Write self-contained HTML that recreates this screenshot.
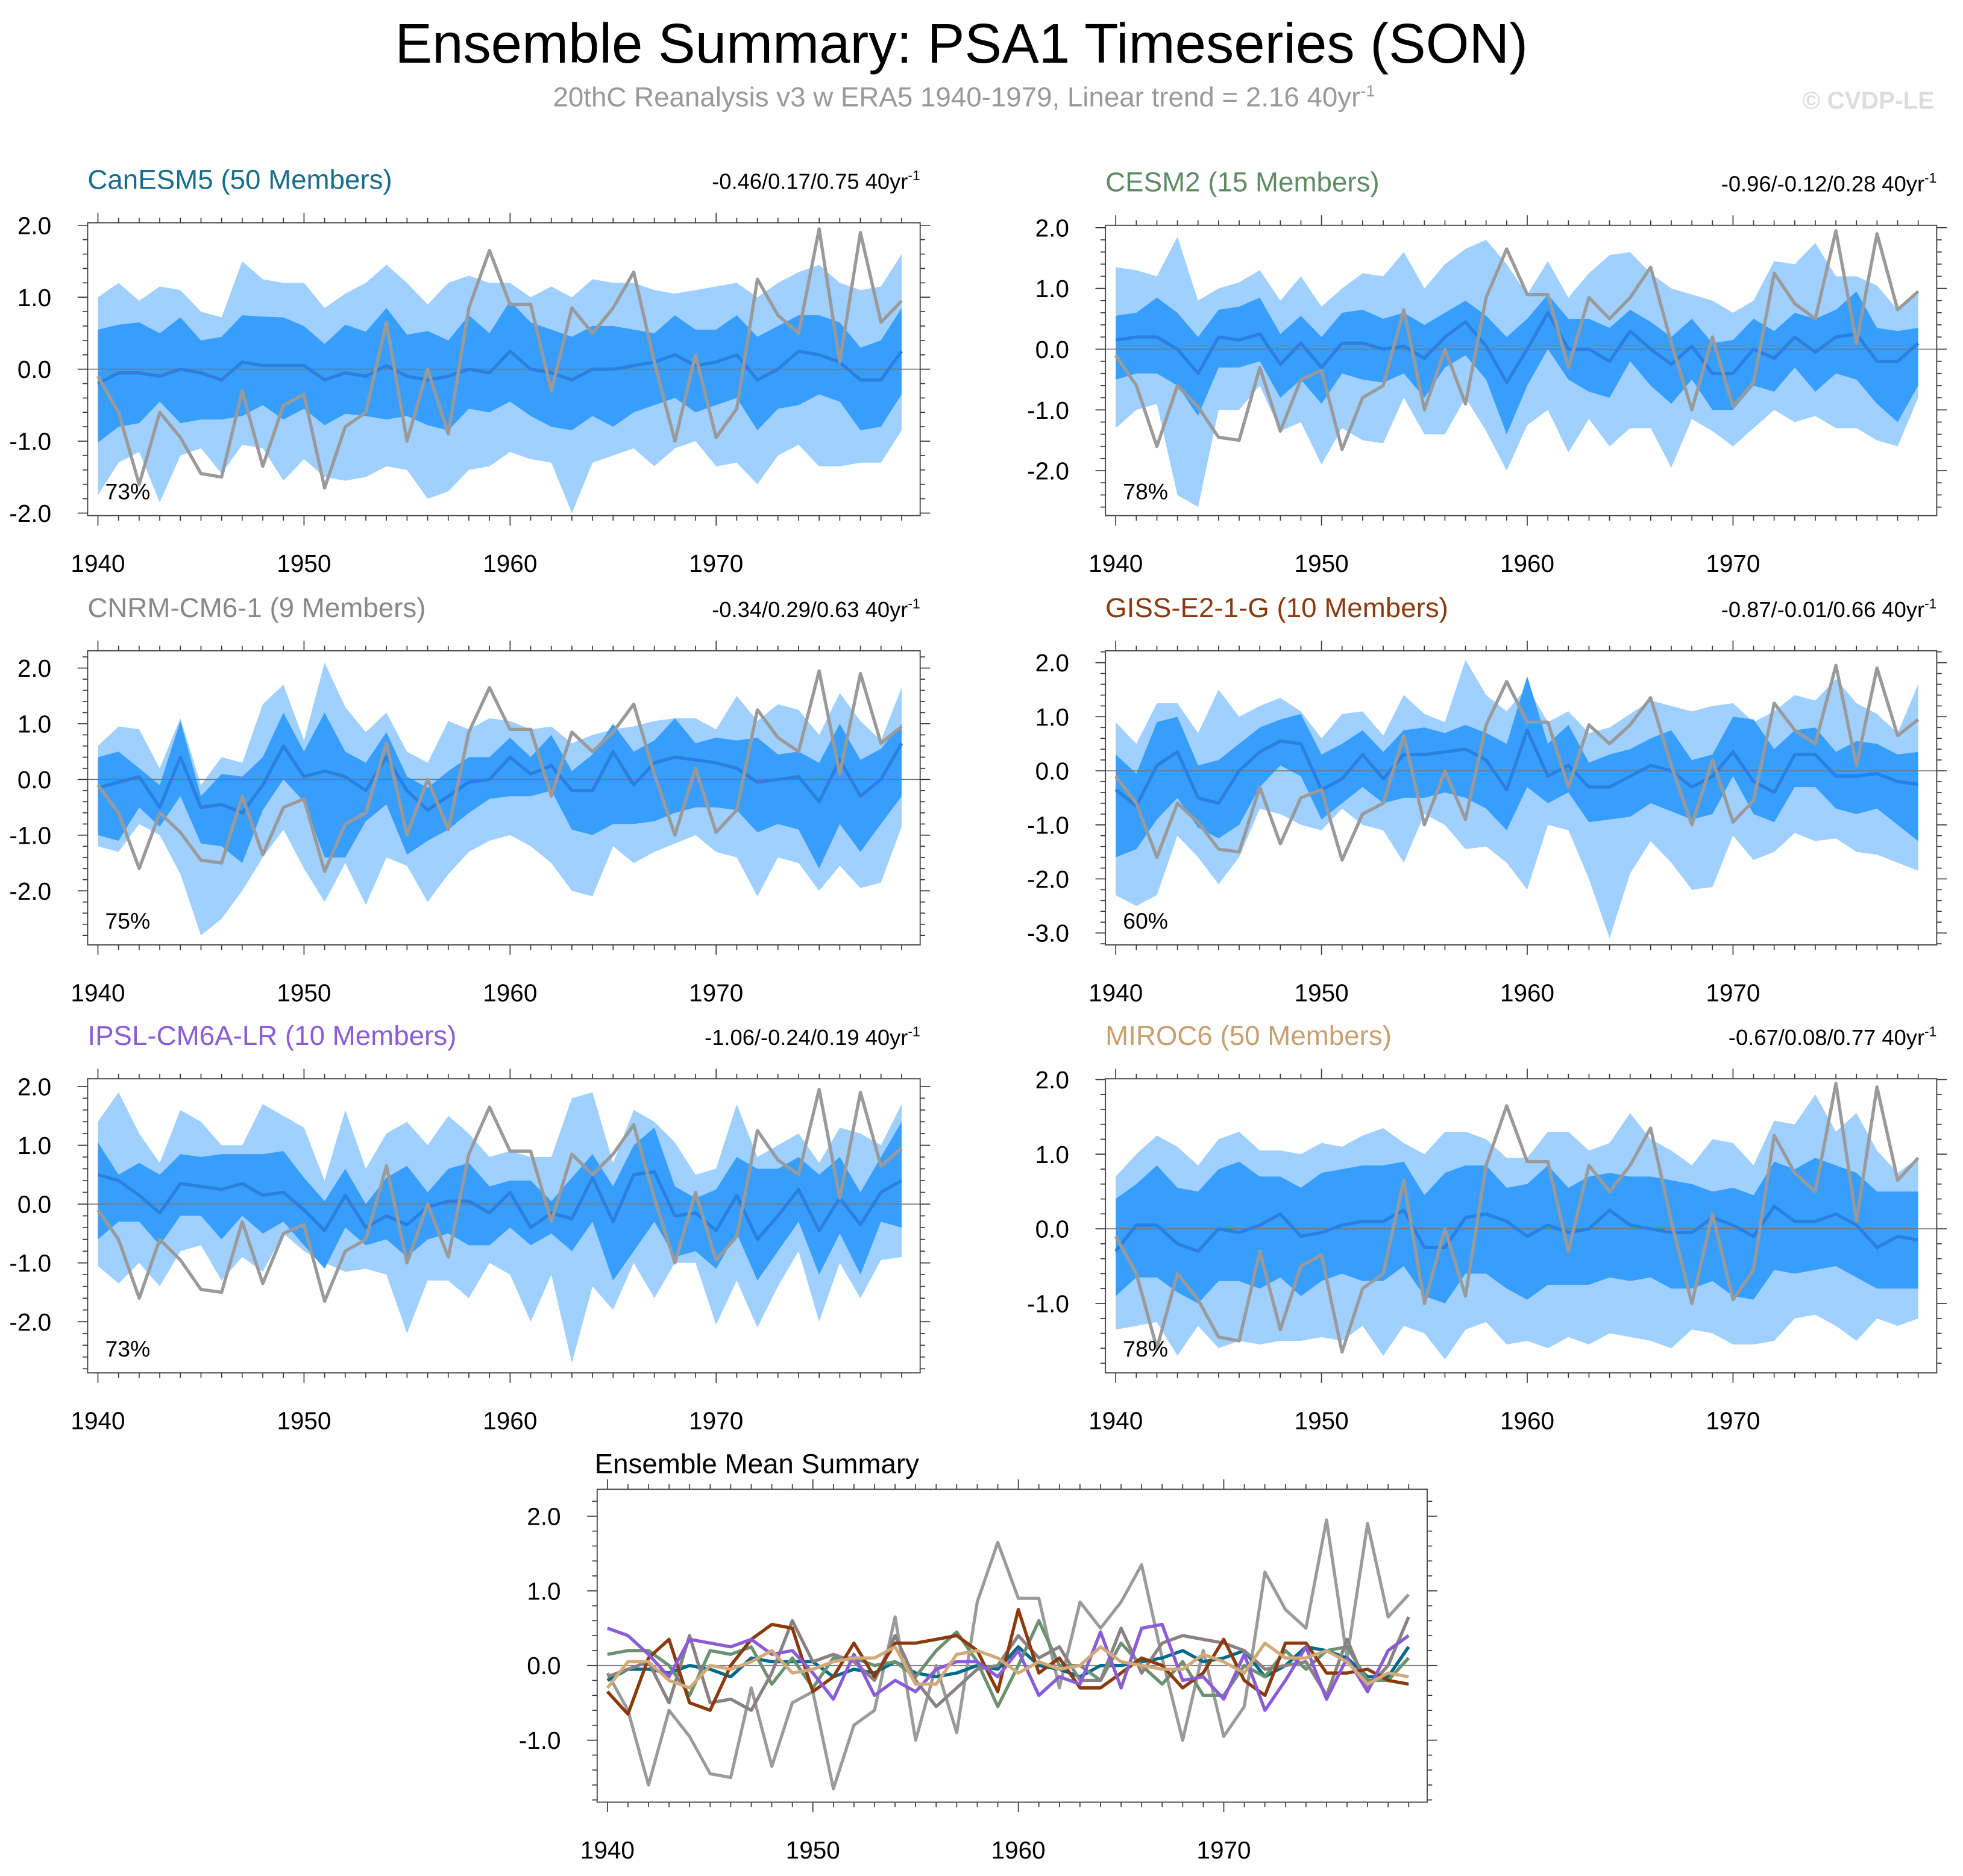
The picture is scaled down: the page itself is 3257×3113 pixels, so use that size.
<!DOCTYPE html>
<html><head><meta charset="utf-8"><style>
html,body{margin:0;padding:0;background:#fff;}
svg{display:block;font-family:"Liberation Sans",sans-serif;}
</style></head><body>
<svg id="chart" xmlns="http://www.w3.org/2000/svg" width="3257" height="3113" viewBox="0 0 1568 1499" preserveAspectRatio="none">
<rect width="1568" height="1499" fill="#fff"/>
<text x="768" y="50" font-size="44.5" text-anchor="middle" fill="#000">Ensemble Summary: PSA1 Timeseries (SON)</text>
<text x="770" y="85" font-size="22" text-anchor="middle" fill="#999">20thC Reanalysis v3 w ERA5 1940-1979, Linear trend = 2.16 40yr<tspan dy="-8" font-size="13">-1</tspan></text>
<text x="1545" y="87" font-size="19.5" font-weight="bold" text-anchor="end" fill="#ddd">© CVDP-LE</text>
<g id="panels"></g>
</svg>
<script>
const years = [];
for (let y = 1940; y <= 1979; y++) years.push(y);
const obs = [-0.1,-0.6,-1.6,-0.6,-0.95,-1.45,-1.5,-0.3,-1.35,-0.5,-0.35,-1.65,-0.8,-0.6,0.65,-1.0,0.0,-0.9,0.85,1.65,0.9,0.9,-0.3,0.85,0.5,0.85,1.35,0.1,-1.0,0.2,-0.95,-0.55,1.25,0.75,0.5,1.95,0.1,1.9,0.65,0.95];

const canMean = [-0.2,-0.05,-0.05,-0.1,0,-0.05,-0.15,0.1,0.05,0.05,0.05,-0.15,-0.05,-0.1,0.05,-0.1,-0.15,-0.1,0,-0.05,0.25,0,-0.05,-0.15,0,0,0.05,0.1,0.2,0.05,0.1,0.2,-0.15,0,0.25,0.2,0.1,-0.15,-0.15,0.25];
const canOutHi = [1.0,1.2,0.95,1.15,1.1,0.8,0.72,1.5,1.25,1.2,1.2,0.85,1.05,1.2,1.45,1.2,0.9,1.2,1.3,1.2,1.2,1.0,1.15,1.0,1.25,1.2,1.2,1.1,1.05,1.1,1.15,1.2,1.0,1.2,1.35,1.45,1.2,1.1,1.15,1.6];
const canOutLo = [-1.75,-1.3,-1.15,-1.85,-1.2,-1.1,-1.45,-1.05,-1.1,-1.55,-1.25,-1.5,-1.55,-1.5,-1.35,-1.4,-1.8,-1.7,-1.4,-1.35,-1.15,-1.25,-1.3,-2.0,-1.3,-1.2,-1.1,-1.35,-1.1,-1.0,-1.35,-1.3,-1.6,-1.2,-1.05,-1.35,-1.35,-1.3,-1.3,-0.85];
const canInHi = [0.55,0.62,0.65,0.5,0.72,0.4,0.45,0.75,0.73,0.72,0.6,0.35,0.62,0.52,0.85,0.48,0.53,0.4,0.75,0.5,0.95,0.65,0.55,0.45,0.6,0.6,0.55,0.5,0.75,0.55,0.55,0.75,0.45,0.6,0.75,0.75,0.65,0.3,0.4,0.85];
const canInLo = [-1.02,-0.8,-0.75,-0.45,-0.75,-0.7,-0.7,-0.65,-0.5,-0.7,-0.55,-0.78,-0.62,-0.65,-0.7,-0.65,-0.78,-0.85,-0.55,-0.6,-0.45,-0.65,-0.8,-0.85,-0.65,-0.8,-0.6,-0.5,-0.4,-0.6,-0.5,-0.4,-0.85,-0.55,-0.5,-0.35,-0.45,-0.85,-0.8,-0.35];

const cesMean = [0.15,0.2,0.2,0.0,-0.4,0.2,0.15,0.25,-0.25,0.1,-0.3,0.1,0.1,0.0,0.05,-0.15,0.2,0.45,0.05,-0.55,0.0,0.6,0.0,0.0,-0.2,0.3,0.0,-0.25,0.05,-0.4,-0.4,0.0,-0.15,0.2,-0.05,0.2,0.25,-0.2,-0.2,0.1];
const cesOutHi = [1.35,1.3,1.2,1.85,0.8,1.0,1.1,1.3,0.8,1.2,0.7,1.0,1.25,1.2,1.6,1.0,1.4,1.65,1.8,1.4,0.9,1.45,0.85,1.25,1.55,1.6,1.25,1.0,0.9,0.8,0.6,0.8,1.45,1.4,1.75,1.2,1.2,1.05,0.65,0.95];
const cesOutLo = [-1.3,-1.0,-0.9,-2.4,-2.6,-1.0,-1.0,-0.6,-1.35,-1.2,-1.9,-1.3,-1.5,-1.55,-0.8,-1.4,-1.4,-0.8,-1.35,-2.0,-1.25,-1.0,-1.7,-1.15,-1.6,-1.3,-1.3,-1.95,-1.15,-1.35,-1.6,-1.3,-1.0,-1.2,-1.1,-1.3,-1.3,-1.5,-1.6,-0.8];
const cesInHi = [0.55,0.6,0.85,0.6,0.2,0.65,0.7,0.85,0.25,0.55,0.2,0.6,0.65,0.5,0.6,0.4,0.6,0.8,0.55,0.2,0.5,0.9,0.5,0.5,0.35,0.65,0.45,0.2,0.5,0.1,0.15,0.5,0.3,0.6,0.5,0.65,0.95,0.35,0.3,0.35];
const cesInLo = [-0.5,-0.4,-0.4,-0.6,-1.1,-0.3,-0.3,-0.2,-0.8,-0.5,-0.9,-0.4,-0.5,-0.55,-0.4,-0.8,-0.3,-0.1,-0.5,-1.4,-0.6,0.0,-0.5,-0.7,-0.8,-0.2,-0.6,-0.9,-0.5,-1.0,-1.0,-0.6,-0.7,-0.3,-0.7,-0.4,-0.5,-0.9,-1.2,-0.6];

const cnrMean = [-0.15,-0.05,0.05,-0.5,0.4,-0.5,-0.45,-0.6,-0.1,0.6,0.05,0.15,0.05,-0.2,0.4,-0.2,-0.55,-0.3,-0.05,0.0,0.4,0.1,0.25,-0.2,-0.2,0.5,-0.1,0.3,0.4,0.35,0.3,0.2,-0.05,0.0,0.05,-0.4,0.35,-0.3,0.0,0.65];
const cnrOutHi = [0.6,0.95,0.9,0.2,1.1,-0.1,0.4,0.3,1.35,1.7,0.7,2.1,1.3,0.85,1.2,0.5,0.3,1.05,0.9,1.1,1.05,0.9,0.95,0.65,0.8,0.9,0.95,1.05,1.1,1.1,0.9,1.5,1.05,1.35,1.25,0.8,1.55,1.05,0.7,1.65];
const cnrOutLo = [-1.2,-1.3,-0.8,-1.0,-1.7,-2.8,-2.5,-2.0,-1.4,-0.9,-1.6,-2.2,-1.5,-2.25,-1.4,-1.55,-2.2,-1.7,-1.3,-1.1,-1.0,-1.2,-1.5,-2.0,-2.1,-1.2,-1.5,-1.3,-1.15,-1.0,-1.3,-1.4,-2.1,-1.4,-1.5,-2.0,-1.55,-1.95,-1.85,-0.85];
const cnrInHi = [0.4,0.5,0.2,-0.1,1.05,-0.3,0.1,0.05,0.4,1.2,0.5,1.2,0.5,0.3,0.85,0.05,-0.15,0.15,0.4,0.4,0.75,0.4,0.8,0.15,0.45,1.0,0.5,0.7,1.1,0.65,0.75,0.7,0.75,0.45,0.5,0.3,1.0,0.35,0.55,1.0];
const cnrInLo = [-1.0,-1.1,-0.5,-0.85,-0.3,-1.15,-1.2,-1.5,-0.55,0.0,-0.4,-1.4,-1.4,-0.75,-0.45,-1.35,-1.1,-0.9,-0.6,-0.35,-0.3,-0.3,-0.2,-0.9,-1.0,-0.8,-0.8,-0.75,-0.6,-0.5,-0.5,-0.55,-0.95,-0.8,-0.9,-1.6,-0.8,-1.3,-0.8,-0.3];

const gisMean = [-0.35,-0.65,0.1,0.35,-0.5,-0.6,0.0,0.35,0.55,0.5,-0.35,-0.15,0.3,-0.15,0.3,0.3,0.35,0.4,0.2,-0.35,0.75,-0.1,0.1,-0.3,-0.3,-0.1,0.1,0.0,-0.3,-0.1,0.35,-0.2,-0.4,0.3,0.3,-0.1,-0.1,-0.05,-0.2,-0.25];
const gisOutHi = [0.9,0.5,1.25,1.25,0.7,1.5,1.0,1.2,1.35,1.1,0.6,1.05,1.1,0.65,1.4,1.05,0.9,2.05,1.4,1.1,1.55,0.9,1.1,0.7,0.8,1.05,1.3,1.2,1.1,1.2,1.25,0.9,1.1,1.4,1.3,1.7,1.25,1.05,0.7,1.6];
const gisOutLo = [-2.3,-2.5,-2.3,-1.2,-1.6,-2.1,-1.6,-0.7,-0.8,-1.0,-1.1,-0.7,-1.0,-1.1,-1.7,-0.8,-1.0,-1.45,-1.4,-1.7,-2.2,-1.0,-1.1,-2.0,-3.1,-1.9,-1.3,-1.7,-2.2,-2.15,-1.2,-1.65,-1.5,-1.15,-1.3,-1.25,-1.5,-1.55,-1.7,-1.85];
const gisInHi = [0.3,-0.05,0.9,1.0,0.1,0.2,0.5,0.8,0.95,1.05,0.3,0.5,0.75,0.35,0.75,0.8,0.7,0.85,0.7,0.5,1.75,0.5,0.85,0.15,0.3,0.4,0.6,0.75,0.2,0.3,1.0,0.95,0.4,0.75,0.8,0.35,0.55,0.5,0.3,0.35];
const gisInLo = [-1.6,-1.45,-0.9,-0.5,-1.05,-1.25,-1.0,-0.3,0.1,-0.1,-0.9,-0.6,-0.3,-0.6,-0.5,-0.5,-0.4,-0.5,-0.7,-1.1,-0.3,-0.6,-0.4,-0.95,-0.9,-0.85,-0.6,-0.75,-0.9,-0.8,-0.1,-0.8,-0.95,-0.3,-0.3,-0.7,-0.8,-0.7,-1.0,-1.3];

const ipsMean = [0.5,0.4,0.15,-0.15,0.35,0.3,0.25,0.35,0.15,0.2,-0.1,-0.45,0.15,-0.4,-0.2,-0.35,-0.05,0.05,0.05,-0.15,0.2,-0.4,-0.15,-0.25,0.45,-0.3,0.5,0.55,-0.2,-0.15,-0.45,0.15,-0.6,-0.2,0.25,-0.45,0.1,-0.35,0.2,0.4];
const ipsOutHi = [1.4,1.9,1.2,0.7,1.6,1.4,1.0,1.0,1.7,1.5,1.3,0.4,1.6,0.6,1.2,1.4,1.0,1.5,1.2,0.8,0.9,0.8,0.8,1.8,1.9,0.7,1.6,1.4,1.05,0.5,0.6,1.7,0.8,1.0,1.2,0.7,1.3,1.2,1.0,1.7];
const ipsOutLo = [-1.05,-1.35,-1.0,-1.4,-0.8,-0.7,-1.3,-0.9,-1.15,-0.5,-0.8,-1.0,-1.15,-1.1,-1.2,-2.2,-1.3,-1.3,-1.6,-1.0,-1.2,-2.0,-1.2,-2.7,-1.4,-1.8,-1.0,-1.6,-1.0,-1.0,-2.05,-1.3,-2.1,-1.4,-0.8,-2.0,-1.0,-1.6,-0.95,-0.9];
const ipsInHi = [1.05,0.5,0.7,0.5,0.85,0.8,0.85,0.85,0.85,0.9,0.45,0.05,0.6,0.0,0.45,0.65,0.2,0.6,0.7,0.3,0.4,0.4,0.05,0.45,0.85,0.3,1.0,1.3,0.3,0.1,0.25,0.8,0.6,0.6,0.8,0.5,0.8,0.2,0.8,1.4];
const ipsInLo = [-0.6,-0.3,-0.3,-0.7,-0.2,-0.2,-0.6,-0.2,-0.5,-0.3,-0.7,-1.1,-0.4,-0.7,-0.6,-0.9,-0.6,-0.5,-0.7,-0.7,-0.4,-0.7,-0.5,-0.8,-0.3,-1.3,-0.8,-0.3,-0.9,-0.8,-1.1,-0.5,-1.3,-0.8,-0.3,-1.2,-0.5,-1.2,-0.3,-0.4];

const mirMean = [-0.3,0.05,0.05,-0.2,-0.3,0.0,-0.05,0.05,0.2,-0.1,-0.05,0.05,0.1,0.1,0.25,-0.25,-0.25,0.15,0.2,0.1,-0.1,0.05,-0.05,0.0,0.25,0.05,0.0,-0.05,-0.05,0.15,0.05,-0.1,0.3,0.1,0.1,0.2,0.05,-0.25,-0.1,-0.15];
const mirOutHi = [0.7,1.0,1.25,1.1,0.85,1.2,1.3,1.05,1.05,1.0,1.15,1.1,1.25,1.35,1.15,1.0,1.3,1.3,1.2,0.95,0.95,1.3,1.3,1.05,1.15,1.55,1.2,1.05,0.85,1.2,1.15,0.85,1.45,1.4,1.8,1.3,1.55,1.05,0.75,0.95];
const mirOutLo = [-1.35,-1.3,-1.25,-1.7,-1.3,-1.6,-1.5,-1.55,-1.5,-1.5,-1.45,-1.5,-1.3,-1.7,-1.3,-1.4,-1.75,-1.35,-1.25,-1.55,-1.5,-1.6,-1.45,-1.55,-1.4,-1.45,-1.5,-1.6,-1.35,-1.4,-1.55,-1.55,-1.5,-1.2,-1.15,-1.3,-1.5,-1.2,-1.3,-1.2];
const mirInHi = [0.4,0.6,0.85,0.55,0.5,0.8,0.9,0.7,0.7,0.55,0.75,0.8,0.85,0.85,0.9,0.45,0.75,0.85,0.85,0.55,0.6,0.85,0.55,0.7,0.75,0.7,0.7,0.65,0.6,0.5,0.55,0.45,0.9,0.8,0.95,0.85,0.75,0.5,0.5,0.5];
const mirInLo = [-0.9,-0.65,-0.65,-0.85,-1.0,-0.7,-0.7,-0.8,-0.65,-0.9,-0.7,-0.6,-0.7,-0.7,-0.5,-0.9,-1.0,-0.6,-0.6,-0.8,-0.95,-0.75,-0.75,-0.75,-0.65,-0.7,-0.65,-0.8,-0.8,-0.7,-0.9,-0.95,-0.55,-0.6,-0.55,-0.5,-0.65,-0.8,-0.8,-0.8];

const xTickLabels = [1940,1950,1960,1970];

const NS = "http://www.w3.org/2000/svg";
const root = document.getElementById("panels");
function mk(tag, attrs, parent) {
  const e = document.createElementNS(NS, tag);
  for (const k in attrs) e.setAttribute(k, attrs[k]);
  parent.appendChild(e);
  return e;
}

const panels = [
  {key:"canesm5", title:"CanESM5 (50 Members)", color:"#1a6d8a", trend:"-0.46/0.17/0.75", pct:"73%", L:70, R:735, T:178, B:412, ymin:-2.035, ymax:2.035, yt:[2,1,0,-1,-2], mean:canMean, oh:canOutHi, ol:canOutLo, ih:canInHi, il:canInLo},
  {key:"cesm2", title:"CESM2 (15 Members)", color:"#5e8a64", trend:"-0.96/-0.12/0.28", pct:"78%", L:883, R:1547, T:180, B:412, ymin:-2.74, ymax:2.04, yt:[2,1,0,-1,-2], mean:cesMean, oh:cesOutHi, ol:cesOutLo, ih:cesInHi, il:cesInLo},
  {key:"cnrm", title:"CNRM-CM6-1 (9 Members)", color:"#888888", trend:"-0.34/0.29/0.63", pct:"75%", L:70, R:735, T:520, B:755, ymin:-2.97, ymax:2.31, yt:[2,1,0,-1,-2], mean:cnrMean, oh:cnrOutHi, ol:cnrOutLo, ih:cnrInHi, il:cnrInLo},
  {key:"giss", title:"GISS-E2-1-G (10 Members)", color:"#8b3a0f", trend:"-0.87/-0.01/0.66", pct:"60%", L:883, R:1547, T:520, B:755, ymin:-3.22, ymax:2.22, yt:[2,1,0,-1,-2,-3], mean:gisMean, oh:gisOutHi, ol:gisOutLo, ih:gisInHi, il:gisInLo},
  {key:"ipsl", title:"IPSL-CM6A-LR (10 Members)", color:"#8a5cd6", trend:"-1.06/-0.24/0.19", pct:"73%", L:70, R:735, T:862, B:1097, ymin:-2.87, ymax:2.13, yt:[2,1,0,-1,-2], mean:ipsMean, oh:ipsOutHi, ol:ipsOutLo, ih:ipsInHi, il:ipsInLo},
  {key:"miroc6", title:"MIROC6 (50 Members)", color:"#c8a070", trend:"-0.67/0.08/0.77", pct:"78%", L:883, R:1547, T:862, B:1097, ymin:-1.93, ymax:2.01, yt:[2,1,0,-1], mean:mirMean, oh:mirOutHi, ol:mirOutLo, ih:mirInHi, il:mirInLo}
];

function axes(p, g) {
  const xs = v => p.L + (v - 1939.5) / 40.4 * (p.R - p.L);
  const ys = v => p.T + (p.ymax - v) / (p.ymax - p.ymin) * (p.B - p.T);
  p.xs = xs; p.ys = ys;
  const tk = mk("g", {stroke:"#333", "stroke-width":"0.8"}, g);
  
  
  for (let yr = 1940; yr <= 1979; yr++) {
    const major = yr % 10 === 0, len = major ? 8 : 4;
    const x = xs(yr);
    mk("line", {x1:x, x2:x, y1:p.B, y2:p.B + len}, tk);
    mk("line", {x1:x, x2:x, y1:p.T, y2:p.T - len}, tk);
  }
  const top = Math.floor(p.ymax * 5), bot = Math.ceil(p.ymin * 5);
  for (let i = bot; i <= top; i++) {
    const v = i / 5, y = ys(v), major = i % 5 === 0, len = major ? 8 : 4;
    mk("line", {x1:p.L - len, x2:p.L, y1:y, y2:y}, tk);
    mk("line", {x1:p.R, x2:p.R + len, y1:y, y2:y}, tk);
  }
  p.yt.forEach(v => {
    const t = mk("text", {x:p.L - 29, y:ys(v) + 7, "font-size":"19.5", "text-anchor":"end", fill:"#000"}, g);
    
    
    t.textContent = v.toFixed(1);
  });
  xTickLabels.forEach(v => {
    const t = mk("text", {x:xs(v), y:p.B + 45, "font-size":"19.5", "text-anchor":"middle", fill:"#000"}, g);
    
    
    t.textContent = v;
  });
}

function band(p, g, hi, lo, fill, name) {
  let d = "";
  years.forEach((yr, i) => { d += (i ? "L" : "M") + p.xs(yr).toFixed(1) + "," + p.ys(hi[i]).toFixed(1); });
  for (let i = years.length - 1; i >= 0; i--) d += "L" + p.xs(years[i]).toFixed(1) + "," + p.ys(lo[i]).toFixed(1);
  const e = mk("path", {d:d + "Z", fill:fill}, g);
  
  
}
function line(p, g, vals, color, w, name) {
  const pts = years.map((yr, i) => p.xs(yr).toFixed(1) + "," + p.ys(vals[i]).toFixed(1)).join(" ");
  const e = mk("polyline", {points:pts, fill:"none", stroke:color, "stroke-width":w, "stroke-linejoin":"round"}, g);
  
  
}

panels.forEach(p => {
  const g = mk("g", {}, root);
  
  
  axes(p, g);
  band(p, g, p.oh, p.ol, "#9fd0ff", p.key + "-outer-range-band");
  band(p, g, p.ih, p.il, "#389efc", p.key + "-inner-range-band");
  const z = mk("line", {x1:p.L, x2:p.R, y1:p.ys(0), y2:p.ys(0), stroke:"#777", "stroke-width":"0.8"}, g);
  
  
  line(p, g, p.mean, "#2a7fe0", 2.6, p.key + "-ensemble-mean-line");
  line(p, g, obs, "#9a9a9a", 2.6, p.key + "-observed-line");
  const fr = mk("rect", {x:p.L, y:p.T, width:p.R - p.L, height:p.B - p.T, fill:"none", stroke:"#444", "stroke-width":"0.9"}, g);
  
  
  const t = mk("text", {x:p.L, y:p.T - 27, "font-size":"22", fill:p.color}, g);
  
  
  t.textContent = p.title;
  const tr = mk("text", {x:p.R, y:p.T - 27, "font-size":"17.5", "text-anchor":"end", fill:"#000"}, g);
  
  
  tr.innerHTML = p.trend + ' 40yr<tspan dy="-7" font-size="11">-1</tspan>';
  const pc = mk("text", {x:p.L + 14, y:p.B - 13, "font-size":"18", fill:"#000"}, g);
  
  
  pc.textContent = p.pct;
});

// Ensemble mean summary panel
const sp = {key:"ensemble-mean-summary", L:477, R:1140, T:1190, B:1440, ymin:-1.83, ymax:2.36, yt:[2,1,0,-1]};
const sg = mk("g", {}, root);


axes(sp, sg);
const sz = mk("line", {x1:sp.L, x2:sp.R, y1:sp.ys(0), y2:sp.ys(0), stroke:"#777", "stroke-width":"0.8"}, sg);


line(sp, sg, obs, "#9a9a9a", 2.5, "summary-observed-line");
const summaryColors = ["#006a88", "#6a9270", "#8a8282", "#8b3a0f", "#8a5cd6", "#d2aa7a"];
panels.forEach((p, i) => line(sp, sg, p.mean, summaryColors[i], 2.6, "summary-" + p.key + "-line"));
const sf = mk("rect", {x:sp.L, y:sp.T, width:sp.R - sp.L, height:sp.B - sp.T, fill:"none", stroke:"#444", "stroke-width":"0.9"}, sg);


const st = mk("text", {x:475, y:1177, "font-size":"22", fill:"#000"}, sg);


st.textContent = "Ensemble Mean Summary";
</script>
</body></html>
